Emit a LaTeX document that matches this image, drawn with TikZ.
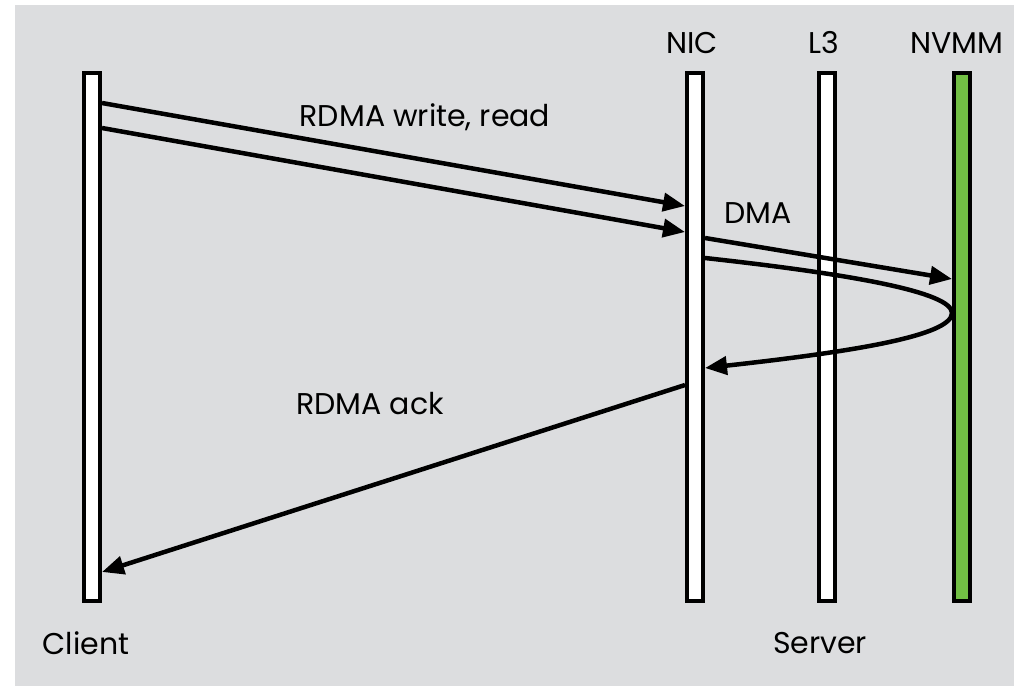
\documentclass[tikz,border=0pt]{standalone}
\usepackage{fontspec}
\setmainfont{Poppins}
\usetikzlibrary{arrows.meta, positioning}
\definecolor{panelgray}{HTML}{DCDDDF}
\definecolor{nvmmgreen}{HTML}{72BF44}
\tikzstyle{bar} = [draw, line width=4pt, fill=white, minimum width=16pt, minimum height=528pt, inner sep=0pt, anchor=north]
\tikzstyle{arrow} = [line width=4.5pt, -{Triangle[length=22pt, width=18pt]}]
\tikzstyle{lbl} = [font=\fontsize{30}{34}\selectfont, inner sep=0pt]

\begin{document}
\begin{tikzpicture}[x=1pt, y=-1pt]
    \useasboundingbox (0,0) rectangle (1014,686);
    \fill[panelgray] (15,5) rectangle (1014,686);
    % lifelines
    \node[bar] (client) at (92,71) {};
    \node[bar] (nic) at (695,71) {};
    \node[bar] (lthree) at (827,71) {};
    \node[bar, fill=nvmmgreen] (nvmm) at (962,71) {};
    \node[lbl] (nictext) at (692,43) {NIC};
    \node[lbl] (lthreetext) at (824,43) {L3};
    \node[lbl] (nvmmtext) at (957,43) {NVMM};
    \node[lbl] (clienttext) at (86,643) {Client};
    \node[lbl] (servertext) at (820,643) {Server};
    % messages
    \draw[arrow] (client.east |- 0,103) -- (nic.west |- 0,206);
    \draw[arrow] (client.east |- 0,128) -- (nic.west |- 0,232);
    \node[lbl] (writetext) at (425,117) {RDMA write, read};
    \draw[arrow] (nic.east |- 0,238) -- (nvmm.west |- 0,279);
    \node[lbl] (dmatext) at (758,213) {DMA};
    \draw[arrow] (nic.east |- 0,258) .. controls (850,274) and (952,292) .. (nvmm.west |- 0,313)
        .. controls (952,336) and (850,352) .. (nic.east |- 0,368);
    \draw[arrow] (nic.west |- 0,385) -- (client.east |- 0,572);
    \node[lbl] (acktext) at (370,404) {RDMA ack};
\end{tikzpicture}
\end{document}
